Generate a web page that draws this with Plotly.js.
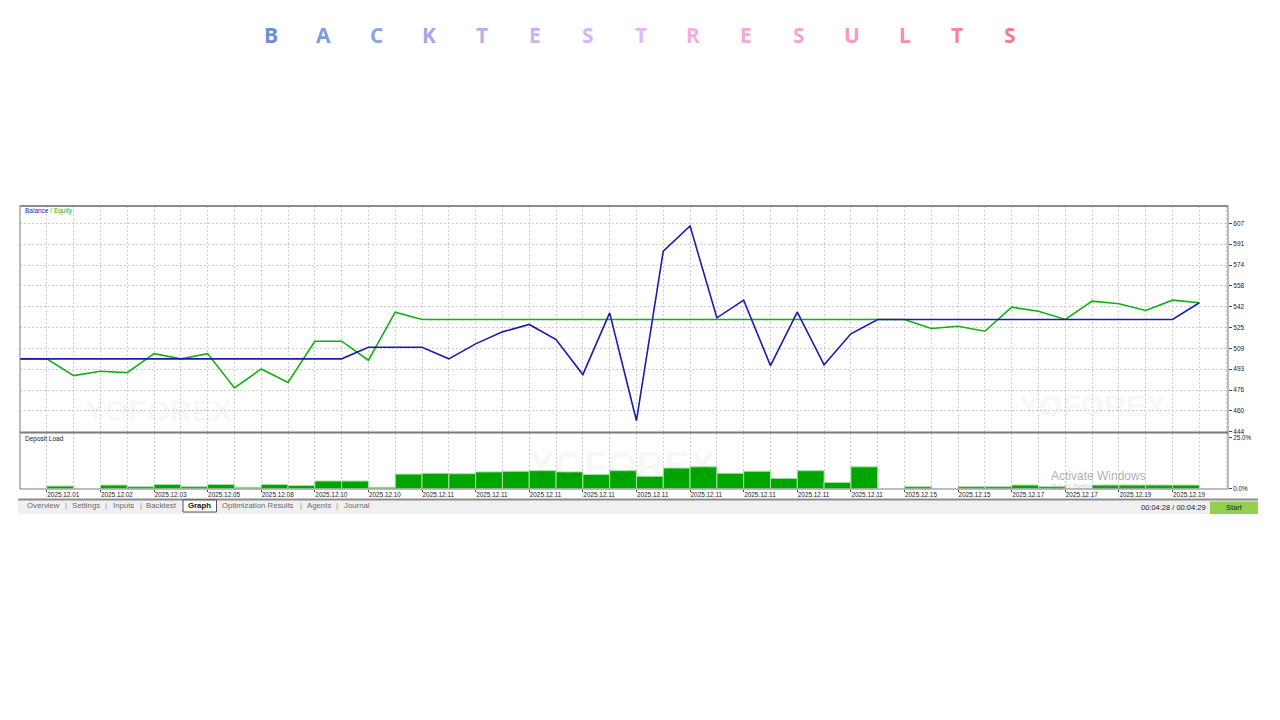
<!DOCTYPE html>
<html>
<head>
<meta charset="utf-8">
<script src="https://cdn.plot.ly/plotly-3.0.1.min.js"></script>
<style>html,body{margin:0;padding:0;background:#fff;}#chart{width:1280px;height:720px;}</style>
</head>
<body>
<div id="chart"></div>
<script>
// ---- data ----
const tradeIndex = [0,1,2,3,4,5,6,7,8,9,10,11,12,13,14,15,16,17,18,19,20,21,22,23,24,25,26,27,28,29,30,31,32,33,34,35,36,37,38,39,40,41,42,43,44];
const balance = [501.0,501.0,501.0,501.0,501.0,501.0,501.0,501.0,501.0,501.0,501.0,501.0,501.0,
  510.1,510.1,510.1,501.0,512.7,522.1,527.9,516.1,488.7,537.0,452.6,585.3,604.9,533.1,546.9,495.7,537.5,496.3,520.6,
  531.8,531.8,531.8,531.8,531.8,531.8,531.8,531.8,531.8,531.8,531.8,531.8,544.9];
const equity = [501.0,501.0,487.9,491.3,490.2,505.1,501.0,505.1,478.2,493.1,482.6,514.8,514.8,499.9,537.5,
  531.8,531.8,531.8,531.8,531.8,531.8,531.8,531.8,531.8,531.8,531.8,531.8,531.8,531.8,531.8,531.8,531.8,531.8,531.8,
  524.7,526.5,522.6,541.4,538.3,531.8,546.1,544.1,538.8,546.9,544.9];
const depositLoad = [null,1.2,null,1.7,0.9,2.0,0.9,2.0,0.6,2.0,1.5,3.7,3.7,0.6,7.1,7.5,7.3,8.2,8.5,8.8,8.2,6.9,8.8,6.0,10.1,10.7,7.5,8.5,5.0,8.8,3.0,10.7,null,0.9,null,0.9,0.9,1.7,0.9,null,1.7,1.7,1.7,1.7,null];
const yTickVals = [444,460.3,476.6,492.9,509.2,525.5,541.8,558.1,574.4,590.7,607];
const yTickText = ['444','460','476','493','509','525','542','558','574','591','607'];
const dateTickVals = [1,3,5,7,9,11,13,15,17,19,21,23,25,27,29,31,33,35,37,39,41,43];
const dateTickText = ['2025.12.01','2025.12.02','2025.12.03','2025.12.05','2025.12.08','2025.12.10','2025.12.10',
  '2025.12.11','2025.12.11','2025.12.11','2025.12.11','2025.12.11','2025.12.11','2025.12.11','2025.12.11','2025.12.11',
  '2025.12.15','2025.12.15','2025.12.17','2025.12.17','2025.12.19','2025.12.19'];
const titleLetters = ['B','A','C','K','T','E','S','T','R','E','S','U','L','T','S'];
const titleColors = ['#6b8fd4','#7c9ade','#8fa3e0','#a3a8e4','#b9b0ea','#cbb2ef','#dbb4f2','#e8b6f2','#eeb0e4','#f2aad8','#f4a4cc','#f69abd','#f78eae','#f8849e','#f97a8c'];
const tabs = ['Overview','Settings','Inputs','Backtest','Graph','Optimization Results','Agents','Journal'];

// ---- layout helpers ----
const W = 1280, H = 720;
const px = x => x / W;
const py = y => 1 - y / H;

const barX = tradeIndex.map(i => i + 0.5);

const traces = [
  {x: tradeIndex, y: equity, type: 'scatter', mode: 'lines', xaxis: 'x', yaxis: 'y',
   line: {color: '#12b012', width: 1.6}, hoverinfo: 'skip', name: 'Equity'},
  {x: tradeIndex, y: balance, type: 'scatter', mode: 'lines', xaxis: 'x', yaxis: 'y',
   line: {color: '#1c1cae', width: 1.6}, hoverinfo: 'skip', name: 'Balance'},
  {x: barX, y: depositLoad, type: 'bar', xaxis: 'x2', yaxis: 'y2', width: 1,
   marker: {color: '#00a600', line: {color: '#a8e0a8', width: 1}}, hoverinfo: 'skip', name: 'Deposit Load'}
];

const annotations = [];
titleLetters.forEach((ch, i) => {
  annotations.push({xref: 'paper', yref: 'paper', x: px(271 + i * 52.8), y: py(35), text: '<b>' + ch + '</b>',
    showarrow: false, xanchor: 'center', yanchor: 'middle',
    font: {family: 'Open Sans, Liberation Sans, sans-serif', size: 21, color: titleColors[i]}});
});
// watermarks
[[158, 410, 30], [622, 466, 38], [1092, 405, 30]].forEach(w => {
  annotations.push({xref: 'paper', yref: 'paper', x: px(w[0]), y: py(w[1]), text: '<b>YOFOREX</b>', showarrow: false,
    xanchor: 'center', yanchor: 'middle', font: {family: 'Liberation Sans, sans-serif', size: w[2], color: 'rgba(0,0,0,0.05)'}});
});
annotations.push({xref: 'paper', yref: 'paper', x: px(23), y: py(211), xanchor: 'left', yanchor: 'middle', showarrow: false,
  text: '<span style="color:#1c1cae">Balance</span><span style="color:#777"> / </span><span style="color:#12b012">Equity</span>',
  font: {family: 'Liberation Sans, sans-serif', size: 6.5}});
annotations.push({xref: 'paper', yref: 'paper', x: px(23), y: py(439), xanchor: 'left', yanchor: 'middle', showarrow: false,
  text: 'Deposit Load', font: {family: 'Liberation Sans, sans-serif', size: 6.5, color: '#222'}});
// tabs
const tabCenters = [43, 86, 123, 161.5, 199.5, 258, 319, 356.5];
tabs.forEach((t, i) => {
  annotations.push({xref: 'paper', yref: 'paper', x: px(tabCenters[i]), y: py(505.5), xanchor: 'center', yanchor: 'middle',
    showarrow: false, text: t === 'Graph' ? '<b>' + t + '</b>' : t,
    font: {family: 'Liberation Sans, sans-serif', size: 7.8, color: t === 'Graph' ? '#111' : '#6a6a6a'}});
});
[65.7, 105.7, 140.5, 300.7, 337.3].forEach(s => {
  annotations.push({xref: 'paper', yref: 'paper', x: px(s), y: py(505.5), xanchor: 'center', yanchor: 'middle',
    showarrow: false, text: '|', font: {family: 'Liberation Sans, sans-serif', size: 8, color: '#999'}});
});
annotations.push({xref: 'paper', yref: 'paper', x: px(1173), y: py(507.5), xanchor: 'center', yanchor: 'middle', showarrow: false,
  text: '00:04:28 / 00:04:29', font: {family: 'Liberation Sans, sans-serif', size: 7.5, color: '#222'}});
annotations.push({xref: 'paper', yref: 'paper', x: px(1234), y: py(507.5), xanchor: 'center', yanchor: 'middle', showarrow: false,
  text: 'Start', font: {family: 'Liberation Sans, sans-serif', size: 7.5, color: '#222'}});
annotations.push({xref: 'paper', yref: 'paper', x: px(1049), y: py(476), xanchor: 'left', yanchor: 'middle', showarrow: false,
  text: 'Activate Windows', font: {family: 'Liberation Sans, sans-serif', size: 12, color: 'rgba(120,120,120,0.6)'}});
annotations.push({xref: 'paper', yref: 'paper', x: px(1049), y: py(486.5), xanchor: 'left', yanchor: 'middle', showarrow: false,
  text: 'Go to Settings to activate Windows.', font: {family: 'Liberation Sans, sans-serif', size: 8, color: 'rgba(140,140,140,0.45)'}});

const shapes = [
  {type: 'rect', xref: 'paper', yref: 'paper', x0: px(18), x1: px(1258), y0: py(514), y1: py(500), fillcolor: '#f0f0f0', line: {width: 0}, layer: 'below'},
  {type: 'line', xref: 'paper', yref: 'paper', x0: px(18), x1: px(1258), y0: py(499.5), y1: py(499.5), line: {color: '#8c8c8c', width: 2}},
  {type: 'rect', xref: 'paper', yref: 'paper', x0: px(183), x1: px(216.5), y0: py(512), y1: py(500), fillcolor: '#ffffff', line: {color: '#555', width: 1}},
  {type: 'rect', xref: 'paper', yref: 'paper', x0: px(1210), x1: px(1258), y0: py(514), y1: py(501.5), fillcolor: '#92d050', line: {width: 0}},
  {type: 'rect', xref: 'paper', yref: 'paper', x0: px(20), x1: px(1228), y0: py(489), y1: py(205.7), line: {color: '#7a7a7a', width: 1}},
  {type: 'line', xref: 'paper', yref: 'paper', x0: px(20), x1: px(1228), y0: py(206), y1: py(206), line: {color: '#8c8c8c', width: 2}},
  {type: 'line', xref: 'paper', yref: 'paper', x0: px(20), x1: px(1228), y0: py(432.5), y1: py(432.5), line: {color: '#7a7a7a', width: 2}}
];

const gridCol = '#cfcfcf';
const layout = {
  width: W, height: H, margin: {l: 0, r: 0, t: 0, b: 0}, paper_bgcolor: '#ffffff', plot_bgcolor: '#ffffff',
  showlegend: false, bargap: 0,
  xaxis: {domain: [px(20), px(1228)], range: [0, 45.07], anchor: 'y', tick0: 0, dtick: 1, showgrid: true,
    gridcolor: gridCol, griddash: '2px,2px', gridwidth: 1, showticklabels: false, zeroline: false, showline: false, ticks: ''},
  yaxis: {domain: [py(431.7), py(205.7)], range: [444, 620.8], anchor: 'x', side: 'right', tickmode: 'array',
    tickvals: yTickVals, ticktext: yTickText, ticks: 'outside', ticklen: 3, tickcolor: '#444', showgrid: true,
    gridcolor: gridCol, griddash: '2px,2px', zeroline: false, showline: false,
    tickfont: {family: 'Liberation Sans, sans-serif', size: 6.5, color: '#222'}},
  xaxis2: {domain: [px(20), px(1228)], range: [0, 45.07], anchor: 'y2', tickmode: 'array',
    tickvals: dateTickVals, ticktext: dateTickText, ticks: 'outside', ticklen: 2, tickcolor: '#444',
    ticklabelposition: 'outside right', showgrid: false, zeroline: false, showline: false,
    minor: {tick0: 0, dtick: 1, showgrid: true, gridcolor: gridCol, griddash: '2px,2px', ticks: ''},
    tickfont: {family: 'Liberation Sans, sans-serif', size: 6.4, color: '#1a1a1a'}},
  yaxis2: {domain: [py(488.5), py(433)], range: [0, 27.4], anchor: 'x2', side: 'right', tickmode: 'array',
    tickvals: [0, 25], ticktext: ['0.0%', '25.0%'], ticks: 'outside', ticklen: 3, tickcolor: '#444',
    showgrid: false, zeroline: false, showline: false,
    tickfont: {family: 'Liberation Sans, sans-serif', size: 6.3, color: '#222'}},
  annotations: annotations,
  shapes: shapes
};

Plotly.newPlot('chart', traces, layout, {displayModeBar: false, staticPlot: true});
</script>
</body>
</html>
